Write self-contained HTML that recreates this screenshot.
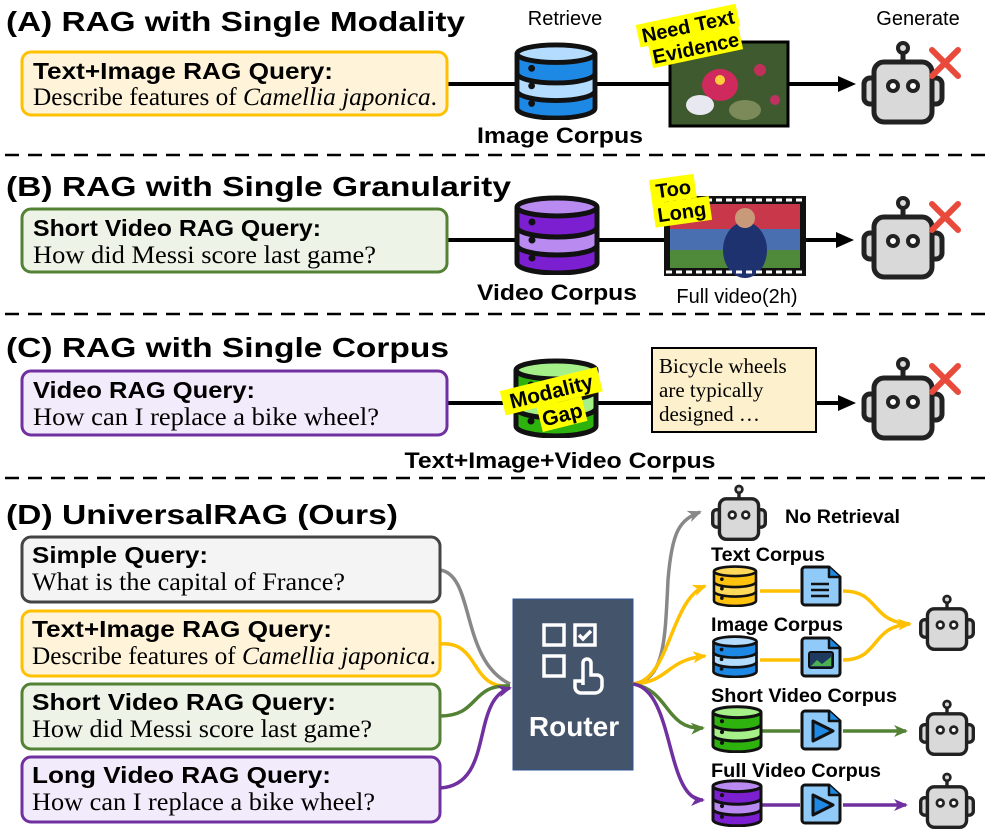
<!DOCTYPE html>
<html><head><meta charset="utf-8"><style>
html,body{margin:0;padding:0;background:#fff;}
svg{display:block;}
.t{font-family:"Liberation Sans",sans-serif;font-weight:bold;}
.s{font-family:"Liberation Serif",serif;}
</style></head><body>
<svg width="997" height="831" viewBox="0 0 997 831" xmlns="http://www.w3.org/2000/svg">
<defs>
<symbol id="robot" viewBox="0 0 90 86">
<line x1="45" y1="10" x2="45" y2="22" stroke="#222" stroke-width="5"/>
<circle cx="45" cy="8" r="5" fill="#d9d9d9" stroke="#222" stroke-width="4"/>
<path d="M16,38 h-4 a6,6 0 0 0 -6,6 v14 a6,6 0 0 0 6,6 h4 Z" fill="#d9d9d9" stroke="#222" stroke-width="5" stroke-linejoin="round"/>
<path d="M74,38 h4 a6,6 0 0 1 6,6 v14 a6,6 0 0 1 -6,6 h-4 Z" fill="#d9d9d9" stroke="#222" stroke-width="5" stroke-linejoin="round"/>
<rect x="16" y="22" width="58" height="60" rx="10" fill="#d9d9d9" stroke="#222" stroke-width="5"/>
<circle cx="35" cy="46" r="5" fill="#fff" stroke="#222" stroke-width="4"/>
<circle cx="55" cy="46" r="5" fill="#fff" stroke="#222" stroke-width="4"/>
</symbol>
<symbol id="dbBlue" viewBox="0 0 90 80"><path d="M5,12 V68 A40,10 0 0 0 85,68 V12 Z" fill="#1e88e5"/><path d="M5,32 A40,10 0 0 0 85,32 V50 A40,10 0 0 1 5,50 Z" fill="#b3dcff"/><ellipse cx="45" cy="12" rx="40" ry="9" fill="#b3dcff"/><g fill="none" stroke="#111" stroke-width="5"><ellipse cx="45" cy="12" rx="40" ry="9"/><path d="M5,12 V68 A40,10 0 0 0 85,68 V12"/><path d="M5,32 A40,10 0 0 0 85,32 M5,50 A40,10 0 0 0 85,50"/></g><g fill="#111"><circle cx="20" cy="27" r="3.5"/><circle cx="20" cy="45" r="3.5"/><circle cx="20" cy="63" r="3.5"/></g></symbol>
<symbol id="dbPurple" viewBox="0 0 90 80"><path d="M5,12 V68 A40,10 0 0 0 85,68 V12 Z" fill="#7b1fd0"/><path d="M5,32 A40,10 0 0 0 85,32 V50 A40,10 0 0 1 5,50 Z" fill="#b98af0"/><ellipse cx="45" cy="12" rx="40" ry="9" fill="#b98af0"/><g fill="none" stroke="#111" stroke-width="5"><ellipse cx="45" cy="12" rx="40" ry="9"/><path d="M5,12 V68 A40,10 0 0 0 85,68 V12"/><path d="M5,32 A40,10 0 0 0 85,32 M5,50 A40,10 0 0 0 85,50"/></g><g fill="#111"><circle cx="20" cy="27" r="3.5"/><circle cx="20" cy="45" r="3.5"/><circle cx="20" cy="63" r="3.5"/></g></symbol>
<symbol id="dbGreen" viewBox="0 0 90 80"><path d="M5,12 V68 A40,10 0 0 0 85,68 V12 Z" fill="#2db20e"/><path d="M5,32 A40,10 0 0 0 85,32 V50 A40,10 0 0 1 5,50 Z" fill="#a6f08a"/><ellipse cx="45" cy="12" rx="40" ry="9" fill="#a6f08a"/><g fill="none" stroke="#111" stroke-width="5"><ellipse cx="45" cy="12" rx="40" ry="9"/><path d="M5,12 V68 A40,10 0 0 0 85,68 V12"/><path d="M5,32 A40,10 0 0 0 85,32 M5,50 A40,10 0 0 0 85,50"/></g><g fill="#111"><circle cx="20" cy="27" r="3.5"/><circle cx="20" cy="45" r="3.5"/><circle cx="20" cy="63" r="3.5"/></g></symbol>
<symbol id="dbYellow" viewBox="0 0 90 80"><path d="M5,12 V68 A40,10 0 0 0 85,68 V12 Z" fill="#ffc20e"/><path d="M5,32 A40,10 0 0 0 85,32 V50 A40,10 0 0 1 5,50 Z" fill="#ffd95a"/><ellipse cx="45" cy="12" rx="40" ry="9" fill="#ffd95a"/><g fill="none" stroke="#111" stroke-width="5"><ellipse cx="45" cy="12" rx="40" ry="9"/><path d="M5,12 V68 A40,10 0 0 0 85,68 V12"/><path d="M5,32 A40,10 0 0 0 85,32 M5,50 A40,10 0 0 0 85,50"/></g><g fill="#111"><circle cx="20" cy="27" r="3.5"/><circle cx="20" cy="45" r="3.5"/><circle cx="20" cy="63" r="3.5"/></g></symbol>
<symbol id="doc" viewBox="0 0 44 42"><path d="M3,5 a3,3 0 0 1 3,-3 h24 l11,10 v25 a3,3 0 0 1 -3,3 h-32 a3,3 0 0 1 -3,-3 Z" fill="#90caf9" stroke="#111" stroke-width="3" stroke-linejoin="round"/><path d="M30,2 v10 h11" fill="#1e88e5" stroke="#111" stroke-width="2.5" stroke-linejoin="round"/></symbol>
<marker id="ag" markerWidth="14" markerHeight="12" refX="12" refY="6" orient="auto" markerUnits="userSpaceOnUse"><path d="M0,0 L14,6 L0,12 L4,6 Z" fill="#888"/></marker>
<marker id="ay" markerWidth="14" markerHeight="12" refX="12" refY="6" orient="auto" markerUnits="userSpaceOnUse"><path d="M0,0 L14,6 L0,12 L4,6 Z" fill="#ffc000"/></marker>
<marker id="agr" markerWidth="14" markerHeight="12" refX="12" refY="6" orient="auto" markerUnits="userSpaceOnUse"><path d="M0,0 L14,6 L0,12 L4,6 Z" fill="#548235"/></marker>
<marker id="ap" markerWidth="14" markerHeight="12" refX="12" refY="6" orient="auto" markerUnits="userSpaceOnUse"><path d="M0,0 L14,6 L0,12 L4,6 Z" fill="#7030a0"/></marker>
</defs>

<!-- Section A -->
<text x="6" y="31" class="t" font-size="28" textLength="459" lengthAdjust="spacingAndGlyphs">(A) RAG with Single Modality</text>
<text x="565" y="25" font-family="Liberation Sans" font-size="20" text-anchor="middle">Retrieve</text>
<text x="918" y="25" font-family="Liberation Sans" font-size="20" text-anchor="middle">Generate</text>
<line x1="447" y1="84" x2="850" y2="84" stroke="#000" stroke-width="4"/>
<path d="M838,76 L856,84 L838,92 Z" fill="#000"/>
<rect x="22" y="52" width="425" height="63" rx="9" fill="#fff4d9" stroke="#ffc000" stroke-width="3"/>
<text x="33" y="79" class="t" font-size="23" textLength="300" lengthAdjust="spacingAndGlyphs">Text+Image RAG Query:</text>
<text x="33" y="105" class="s" font-size="25" textLength="404" lengthAdjust="spacingAndGlyphs">Describe features of <tspan font-style="italic">Camellia japonica</tspan>.</text>
<use href="#dbBlue" x="511" y="42" width="90" height="78"/>
<text x="560" y="143" class="t" font-size="22" text-anchor="middle" textLength="166" lengthAdjust="spacingAndGlyphs">Image Corpus</text>
<rect x="670" y="42" width="118" height="84" fill="#3e5a2e" stroke="#000" stroke-width="3"/>
<ellipse cx="720" cy="85" rx="18" ry="16" fill="#d0295d"/><circle cx="720" cy="80" r="5" fill="#ffcf3a"/>
<ellipse cx="700" cy="105" rx="14" ry="10" fill="#e8e8f0"/><ellipse cx="745" cy="110" rx="16" ry="10" fill="#7b8a58"/>
<circle cx="760" cy="70" r="6" fill="#c0305a"/><circle cx="775" cy="100" r="5" fill="#c03060"/>
<g transform="rotate(-12 690 40)"><rect x="640" y="14" width="102" height="23" fill="#ffff00"/><rect x="648" y="37" width="92" height="23" fill="#ffff00"/>
<text x="691" y="33" class="t" font-size="20" text-anchor="middle">Need Text</text><text x="694" y="56" class="t" font-size="20" text-anchor="middle">Evidence</text></g>
<use href="#robot" x="858" y="40" width="90" height="86"/>
<path d="M932,50 L958,76 M958,50 L932,76" stroke="#e84a3c" stroke-width="6" stroke-linecap="round"/>
<line x1="5" y1="155" x2="990" y2="155" stroke="#000" stroke-width="2.5" stroke-dasharray="14,9"/>

<!-- Section B -->
<text x="6" y="196" class="t" font-size="28" textLength="505" lengthAdjust="spacingAndGlyphs">(B) RAG with Single Granularity</text>
<line x1="447" y1="240" x2="848" y2="240" stroke="#000" stroke-width="4"/>
<path d="M836,232 L854,240 L836,248 Z" fill="#000"/>
<rect x="22" y="209" width="425" height="63" rx="9" fill="#edf3e6" stroke="#548235" stroke-width="3"/>
<text x="33" y="236" class="t" font-size="23" textLength="288" lengthAdjust="spacingAndGlyphs">Short Video RAG Query:</text>
<text x="33" y="263" class="s" font-size="25" textLength="343" lengthAdjust="spacingAndGlyphs">How did Messi score last game?</text>
<use href="#dbPurple" x="512" y="195" width="90" height="80"/>
<text x="557" y="300" class="t" font-size="22" text-anchor="middle" textLength="160" lengthAdjust="spacingAndGlyphs">Video Corpus</text>
<rect x="664" y="196" width="142" height="80" fill="#111"/>
<rect x="670" y="204" width="130" height="64" fill="#4a6fb0"/>
<rect x="670" y="204" width="130" height="25" fill="#c9384a"/>
<rect x="670" y="250" width="130" height="18" fill="#4f8a3a"/>
<ellipse cx="745" cy="250" rx="22" ry="28" fill="#1e3270"/><circle cx="745" cy="218" r="10" fill="#c99a7a"/>
<g stroke="#fff" stroke-width="3" stroke-dasharray="6,4"><line x1="666" y1="200" x2="804" y2="200"/><line x1="666" y1="272" x2="804" y2="272"/></g>
<g transform="rotate(-8 680 200)"><rect x="652" y="176" width="45" height="24" fill="#ffff00"/><rect x="652" y="200" width="57" height="24" fill="#ffff00"/>
<text x="675" y="195" class="t" font-size="20" text-anchor="middle">Too</text><text x="680" y="219" class="t" font-size="20" text-anchor="middle">Long</text></g>
<text x="737" y="303" font-family="Liberation Sans" font-size="20" text-anchor="middle">Full video(2h)</text>
<use href="#robot" x="858" y="195" width="90" height="86"/>
<path d="M932,204 L958,230 M958,204 L932,230" stroke="#e84a3c" stroke-width="6" stroke-linecap="round"/>
<line x1="5" y1="314" x2="990" y2="314" stroke="#000" stroke-width="2.5" stroke-dasharray="14,9"/>

<!-- Section C -->
<text x="6" y="357" class="t" font-size="28" textLength="443" lengthAdjust="spacingAndGlyphs">(C) RAG with Single Corpus</text>
<line x1="447" y1="403" x2="850" y2="403" stroke="#000" stroke-width="4"/>
<path d="M838,395 L856,403 L838,411 Z" fill="#000"/>
<rect x="22" y="371" width="425" height="64" rx="9" fill="#f2ebfb" stroke="#7030a0" stroke-width="3"/>
<text x="33" y="398" class="t" font-size="23" textLength="222" lengthAdjust="spacingAndGlyphs">Video RAG Query:</text>
<text x="33" y="425" class="s" font-size="25" textLength="346" lengthAdjust="spacingAndGlyphs">How can I replace a bike wheel?</text>
<use href="#dbGreen" x="510" y="358" width="92" height="80"/>
<g transform="rotate(-14 555 398)"><rect x="503" y="378" width="100" height="25" fill="#ffff00"/><rect x="535" y="403" width="46" height="25" fill="#ffff00"/>
<text x="553" y="398" class="t" font-size="21" text-anchor="middle">Modality</text><text x="558" y="423" class="t" font-size="21" text-anchor="middle">Gap</text></g>
<rect x="652" y="348" width="164" height="84" fill="#fdf0cc" stroke="#000" stroke-width="2"/>
<text x="659" y="373" class="s" font-size="21">Bicycle wheels</text>
<text x="659" y="397" class="s" font-size="21">are typically</text>
<text x="659" y="421" class="s" font-size="21">designed …</text>
<text x="560" y="468" class="t" font-size="22" text-anchor="middle" textLength="311" lengthAdjust="spacingAndGlyphs">Text+Image+Video Corpus</text>
<use href="#robot" x="858" y="356" width="90" height="86"/>
<path d="M932,366 L958,392 M958,366 L932,392" stroke="#e84a3c" stroke-width="6" stroke-linecap="round"/>
<line x1="5" y1="478" x2="990" y2="478" stroke="#000" stroke-width="2.5" stroke-dasharray="14,9"/>

<!-- Section D -->
<text x="6" y="524" class="t" font-size="28" textLength="392" lengthAdjust="spacingAndGlyphs">(D) UniversalRAG (Ours)</text>
<g fill="none" stroke-width="3.5">
<path d="M440,570 C475,575 460,660 510,684" stroke="#888"/>
<path d="M440,644 C480,640 470,690 510,686" stroke="#ffc000"/>
<path d="M440,716 C480,716 470,684 510,686" stroke="#548235"/>
<path d="M440,788 C495,785 470,700 510,688" stroke="#7030a0" marker-end="url(#ap)"/>
</g>
<rect x="22" y="537" width="418" height="65" rx="9" fill="#f4f4f4" stroke="#444" stroke-width="3"/>
<text x="32" y="563" class="t" font-size="23" textLength="176" lengthAdjust="spacingAndGlyphs">Simple Query:</text>
<text x="32" y="590" class="s" font-size="25" textLength="313" lengthAdjust="spacingAndGlyphs">What is the capital of France?</text>
<rect x="22" y="611" width="418" height="65" rx="9" fill="#fff4d9" stroke="#ffc000" stroke-width="3"/>
<text x="32" y="637" class="t" font-size="23" textLength="300" lengthAdjust="spacingAndGlyphs">Text+Image RAG Query:</text>
<text x="32" y="664" class="s" font-size="25" textLength="404" lengthAdjust="spacingAndGlyphs">Describe features of <tspan font-style="italic">Camellia japonica</tspan>.</text>
<rect x="22" y="684" width="418" height="65" rx="9" fill="#edf3e6" stroke="#548235" stroke-width="3"/>
<text x="32" y="710" class="t" font-size="23" textLength="304" lengthAdjust="spacingAndGlyphs">Short Video RAG Query:</text>
<text x="32" y="737" class="s" font-size="25" textLength="340" lengthAdjust="spacingAndGlyphs">How did Messi score last game?</text>
<rect x="22" y="757" width="418" height="65" rx="9" fill="#f2ebfb" stroke="#7030a0" stroke-width="3"/>
<text x="32" y="783" class="t" font-size="23" textLength="299" lengthAdjust="spacingAndGlyphs">Long Video RAG Query:</text>
<text x="32" y="810" class="s" font-size="25" textLength="343" lengthAdjust="spacingAndGlyphs">How can I replace a bike wheel?</text>

<rect x="513" y="599" width="120" height="171" fill="#44546a" stroke="#2f5597" stroke-width="1"/>
<g fill="none" stroke="#fff" stroke-width="3.5">
<rect x="544" y="625" width="20" height="20"/><rect x="575" y="625" width="20" height="20"/><rect x="544" y="656" width="20" height="20"/>
<path d="M579,635 l4,4 l8,-8"/>
<path d="M583,685 v-22 a4,4 0 0 1 8,0 v12 h6 a5,5 0 0 1 5,5 v6 a7,7 0 0 1 -7,7 h-14 a6,6 0 0 1 -6,-6 v-6 h8"/>
</g>
<text x="574" y="736" class="t" font-size="28" fill="#fff" text-anchor="middle">Router</text>

<g fill="none" stroke-width="3.5">
<path d="M633,684 C665,680 665,640 668,580 C672,530 680,520 700,512" stroke="#888" marker-end="url(#ag)"/>
<path d="M633,684 C670,680 670,600 705,586" stroke="#ffc000" marker-end="url(#ay)"/>
<path d="M633,684 C670,682 665,660 705,656" stroke="#ffc000" marker-end="url(#ay)"/>
<path d="M633,684 C670,690 665,730 703,728" stroke="#548235" marker-end="url(#agr)"/>
<path d="M633,684 C675,690 665,800 703,800" stroke="#7030a0" marker-end="url(#ap)"/>
<path d="M760,591 H800 M843,591 C880,591 870,622 910,624" stroke="#ffc000"/>
<path d="M760,660 H800 M843,660 C880,660 870,626 910,624" stroke="#ffc000" marker-end="url(#ay)"/>
<path d="M760,731 H800 M843,731 H906" stroke="#548235" marker-end="url(#agr)"/>
<path d="M760,805 H800 M843,805 H906" stroke="#7030a0" marker-end="url(#ap)"/>
</g>
<use href="#robot" x="708" y="484" width="62" height="58"/>
<text x="785" y="523" class="t" font-size="19" textLength="115" lengthAdjust="spacingAndGlyphs">No Retrieval</text>
<text x="711" y="561" class="t" font-size="19" textLength="114" lengthAdjust="spacingAndGlyphs">Text Corpus</text>
<use href="#dbYellow" x="708" y="565" width="54" height="42"/>
<use href="#doc" x="797" y="565" width="48" height="42"/>
<g stroke="#111" stroke-width="2.5"><line x1="811" y1="584" x2="829" y2="584"/><line x1="811" y1="590" x2="829" y2="590"/><line x1="811" y1="596" x2="829" y2="596"/></g>
<text x="711" y="631" class="t" font-size="19" textLength="132" lengthAdjust="spacingAndGlyphs">Image Corpus</text>
<use href="#dbBlue" x="708" y="635" width="54" height="43"/>
<use href="#doc" x="797" y="636" width="48" height="42"/>
<rect x="809" y="652" width="24" height="16" rx="2" fill="#1e3a5f" stroke="#111" stroke-width="2"/><path d="M811,666 l6,-6 l5,4 l9,-7 v9 Z" fill="#4caf50"/>
<text x="711" y="702" class="t" font-size="19" textLength="186" lengthAdjust="spacingAndGlyphs">Short Video Corpus</text>
<use href="#dbGreen" x="708" y="705" width="58" height="48"/>
<use href="#doc" x="797" y="709" width="48" height="42"/>
<path d="M813,721 L833,731 L813,741 Z" fill="#1e88e5" stroke="#111" stroke-width="3" stroke-linejoin="round"/>
<text x="711" y="777" class="t" font-size="19" textLength="170" lengthAdjust="spacingAndGlyphs">Full Video Corpus</text>
<use href="#dbPurple" x="708" y="779" width="58" height="48"/>
<use href="#doc" x="797" y="783" width="48" height="42"/>
<path d="M813,795 L833,805 L813,815 Z" fill="#1e88e5" stroke="#111" stroke-width="3" stroke-linejoin="round"/>
<use href="#robot" x="916" y="594" width="62" height="58"/>
<use href="#robot" x="916" y="699" width="62" height="58"/>
<use href="#robot" x="916" y="772" width="62" height="58"/>
</svg>
</body></html>
